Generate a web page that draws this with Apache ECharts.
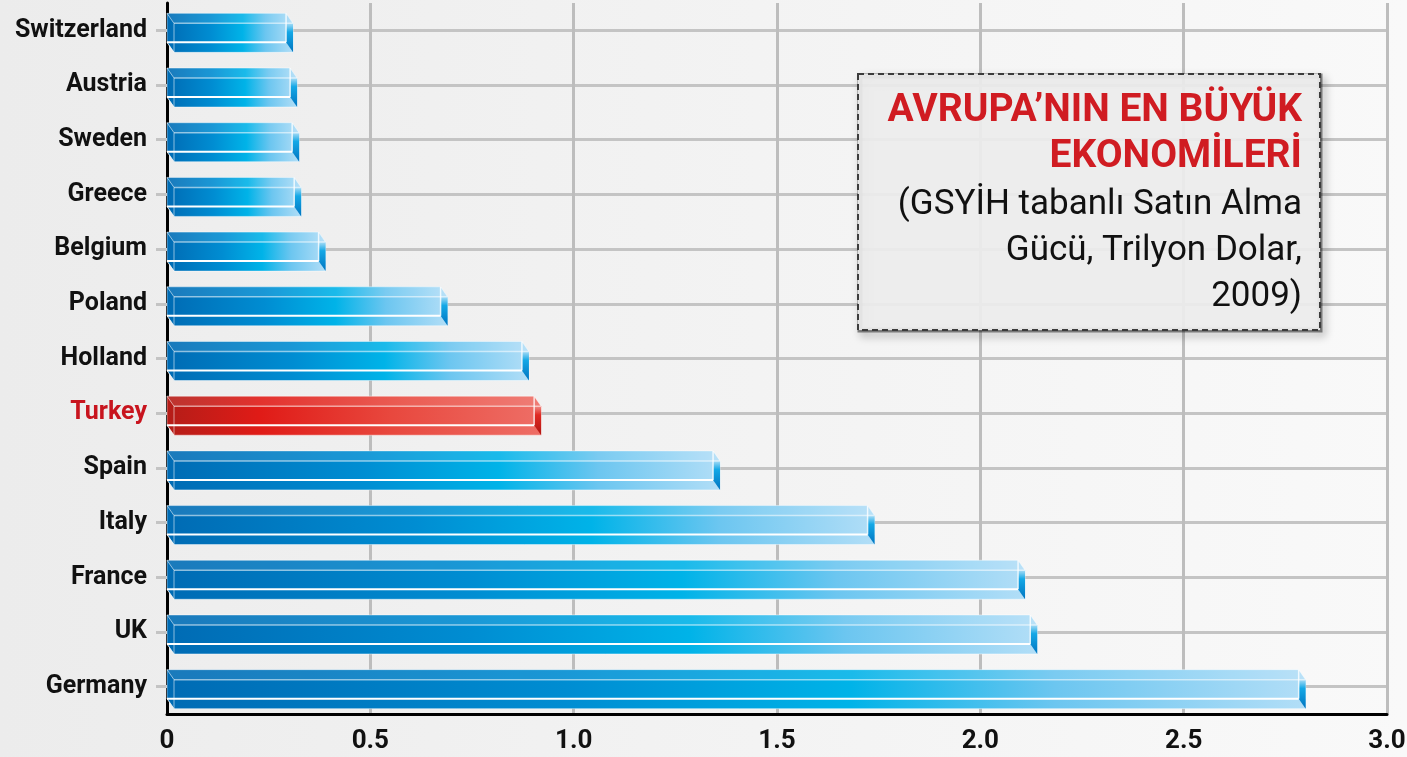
<!DOCTYPE html>
<html>
<head>
<meta charset="utf-8">
<script src="https://cdn.jsdelivr.net/npm/echarts@6/dist/echarts.min.js"></script>
<style>
  html, body { margin: 0; padding: 0; }
  #chart { width: 1407px; height: 757px; }
</style>
</head>
<body>
<div id="chart"></div>
<script>
// countries top to bottom, values in trillion dollars (PPP, 2009)
const countries = ['Switzerland', 'Austria', 'Sweden', 'Greece', 'Belgium', 'Poland', 'Holland',
  'Turkey', 'Spain', 'Italy', 'France', 'UK', 'Germany'];
const gdpValues = [0.31, 0.32, 0.325, 0.33, 0.39, 0.69, 0.89, 0.92, 1.36, 1.74, 2.11, 2.14, 2.80];
const xTicks = [0, 0.5, 1.0, 1.5, 2.0, 2.5, 3.0];
const highlight = 'Turkey';

const titleLines = ['AVRUPA’NIN EN BÜYÜK', 'EKONOMİLERİ'];
const subLines = ['(GSYİH tabanlı Satın Alma', 'Gücü, Trilyon Dolar,', '2009)'];

const chart = echarts.init(document.getElementById('chart'));

const blueFill = [
  { offset: 0, color: '#006bb4' },
  { offset: 0.35, color: '#008dd2' },
  { offset: 0.6, color: '#00b3e8' },
  { offset: 0.78, color: '#6cc6f0' },
  { offset: 1, color: '#b2def7' }
];
const redFill = [
  { offset: 0, color: '#b41d18' },
  { offset: 0.25, color: '#e01b17' },
  { offset: 0.6, color: '#e8483e' },
  { offset: 1, color: '#ee6e66' }
];

// draws one 3D box bar
function renderBar(params, api) {
  const val = api.value(0);
  const idx = api.value(1);
  const start = api.coord([0, idx]);
  const end = api.coord([val, idx]);
  const x0 = start[0], x1 = end[0], cy = start[1];
  const dx = 7, dy = 10, h = 29;
  const top = cy - 17;
  const red = countries[idx] === highlight;
  const fill = new echarts.graphic.LinearGradient(0, 0, 1, 0, red ? redFill : blueFill);
  const side = new echarts.graphic.LinearGradient(0, 0, 0, 1, red
    ? [{ offset: 0, color: '#f08a84' }, { offset: 0.3, color: '#e02a24' }, { offset: 1, color: '#b01410' }]
    : [{ offset: 0, color: '#a8dcf6' }, { offset: 0.3, color: '#14a8e6' }, { offset: 1, color: '#0074c0' }]);
  const edge = 'rgba(255,255,255,0.55)';
  return {
    type: 'group',
    children: [
      {
        type: 'polygon',
        shape: { points: [[x0, top], [x1 - dx, top], [x1, top + dy], [x1, top + dy + h], [x0 + dx, top + dy + h], [x0, top + h]] },
        style: { fill: fill, stroke: 'rgba(255,255,255,0.45)', lineWidth: 1 }
      },
      {
        type: 'polygon',
        shape: { points: [[x0, top], [x1 - dx, top], [x1, top + dy], [x0 + dx, top + dy]] },
        style: { fill: 'rgba(255,255,255,0.1)' }
      },
      {
        type: 'polygon',
        shape: { points: [[x1 - dx, top + dy], [x1, top + dy], [x1, top + dy + h], [x1 - dx, top + h]] },
        style: { fill: side }
      },
      { type: 'line', shape: { x1: x0 + dx, y1: top + dy, x2: x1, y2: top + dy }, style: { stroke: edge, lineWidth: 1.5 } },
      { type: 'line', shape: { x1: x0, y1: top + h, x2: x1 - dx, y2: top + h }, style: { stroke: '#ffffff', lineWidth: 2 } },
      { type: 'line', shape: { x1: x0 + dx, y1: top + dy, x2: x0 + dx, y2: top + dy + h }, style: { stroke: edge, lineWidth: 1 } },
      { type: 'line', shape: { x1: x1 - dx, y1: top, x2: x1 - dx, y2: top + h }, style: { stroke: 'rgba(255,255,255,0.8)', lineWidth: 1.5 } },
      { type: 'line', shape: { x1: x0, y1: top, x2: x0 + dx, y2: top + dy }, style: { stroke: edge, lineWidth: 1 } },
      { type: 'line', shape: { x1: x0, y1: top + h, x2: x0 + dx, y2: top + dy + h }, style: { stroke: edge, lineWidth: 1 } }
    ]
  };
}

const boxX = 858, boxY = 74, boxW = 462, boxH = 256, textRight = 1302;
const graphics = [
  {
    // soft shadow along the box edge
    type: 'rect',
    shape: { x: boxX + 2, y: boxY + 2, width: boxW - 2, height: boxH - 2 },
    style: {
      fill: null, stroke: 'rgba(0,0,0,0.45)', lineWidth: 5,
      shadowBlur: 9, shadowOffsetX: 3, shadowOffsetY: 4, shadowColor: 'rgba(0,0,0,0.6)'
    },
    z: 9
  },
  {
    type: 'rect',
    shape: { x: boxX, y: boxY, width: boxW, height: boxH },
    style: { fill: 'rgba(236,236,236,0.93)', stroke: '#3c3c3c', lineWidth: 2, lineDash: [6, 4] },
    z: 10
  }
];
titleLines.forEach((t, i) => {
  graphics.push({
    type: 'text', x: textRight, y: 111 + i * 46, z: 11,
    style: { text: t, align: 'right', verticalAlign: 'middle', fill: '#d01c22',
      font: 'bold 39px Roboto' }
  });
});
subLines.forEach((t, i) => {
  graphics.push({
    type: 'text', x: textRight, y: 205 + i * 46, z: 11,
    style: { text: t, align: 'right', verticalAlign: 'middle', fill: '#111',
      font: '35px Roboto' }
  });
});

chart.setOption({
  backgroundColor: new echarts.graphic.LinearGradient(0, 0, 1, 0, [
    { offset: 0, color: '#ececec' },
    { offset: 1, color: '#f9f9f9' }
  ]),
  animation: false,
  grid: { left: 167, right: 20, top: 3, bottom: 43, outerBoundsMode: 'none' },
  xAxis: {
    type: 'value',
    min: 0,
    max: 3,
    interval: 0.5,
    axisLine: { show: true, lineStyle: { color: '#000', width: 3 } },
    axisTick: { show: false },
    splitLine: { show: true, lineStyle: { color: '#bdbdbd', width: 3 } },
    axisLabel: {
      margin: 14,
      fontFamily: 'Roboto', fontWeight: 'bold', fontSize: 26, color: '#111',
      formatter: v => (v === 0 ? '0' : v.toFixed(1))
    }
  },
  yAxis: {
    type: 'category',
    inverse: true,
    data: countries,
    axisLine: { show: true, lineStyle: { color: '#000', width: 3 } },
    axisTick: { show: true, alignWithLabel: true, length: 11, lineStyle: { color: '#c4c4c4', width: 3 } },
    splitLine: { show: true, alignWithLabel: true, lineStyle: { color: '#c4c4c4', width: 3 } },
    axisLabel: {
      margin: 20,
      fontFamily: 'Roboto', fontWeight: 'bold', fontSize: 25,
      color: (v) => (v === highlight ? '#c8141e' : '#111')
    }
  },
  series: [{
    type: 'custom',
    renderItem: renderBar,
    encode: { x: 0, y: 1 },
    data: gdpValues.map((v, i) => [v, i])
  }],
  graphic: graphics
});
</script>
</body>
</html>
